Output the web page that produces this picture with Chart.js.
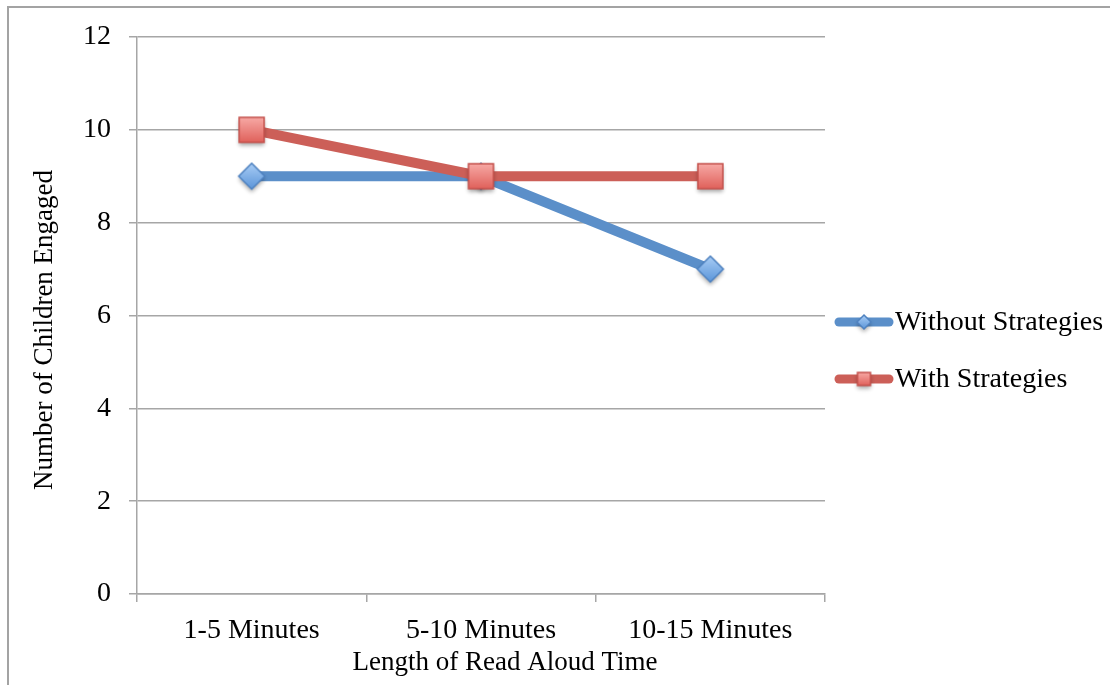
<!DOCTYPE html>
<html>
<head>
<meta charset="utf-8">
<script src="https://cdn.jsdelivr.net/npm/chart.js@4.4.1/dist/chart.umd.min.js"></script>
<style>
  html, body { margin: 0; padding: 0; background: #fff; }
  #wrap { position: relative; width: 1110px; height: 685px; overflow: hidden; }
  #frame {
    position: absolute; left: 7px; top: 6px; width: 1200px; height: 800px;
    border-left: 2px solid #a3a3a3; border-top: 2px solid #a3a3a3;
  }
  canvas { position: absolute; left: 0; top: 0; }
</style>
</head>
<body>
<div id="wrap">
  <div id="frame"></div>
  <canvas id="chart" width="1110" height="685"></canvas>
</div>
<script>
const categories = ["1-5 Minutes", "5-10 Minutes", "10-15 Minutes"];
const withoutStrategies = [9, 9, 7];
const withStrategies = [10, 9, 9];
const seriesNames = ["Without Strategies", "With Strategies"];
const yMin = 0;
const yMax = 12;
const yStep = 2;

const FONT = "'Liberation Serif', 'Times New Roman', serif";
const BLUE = "#5b8fc9";
const RED = "#cc5f58";
const GRID = "#a6a6a6";

// glossy marker images (shape + soft drop shadow), like the office chart
function makeMarker(shape, size) {
  const pad = 8;
  const c = document.createElement("canvas");
  c.width = size + pad * 2;
  c.height = size + pad * 2;
  const ctx = c.getContext("2d");
  const cx = c.width / 2, cy = c.height / 2, h = size / 2;
  ctx.beginPath();
  if (shape === "diamond") {
    ctx.moveTo(cx, cy - h);
    ctx.lineTo(cx + h, cy);
    ctx.lineTo(cx, cy + h);
    ctx.lineTo(cx - h, cy);
    ctx.closePath();
  } else {
    ctx.rect(cx - h, cy - h, size, size);
  }
  const g = ctx.createLinearGradient(0, cy - h, 0, cy + h);
  if (shape === "diamond") {
    g.addColorStop(0, "#a9cdf5");
    g.addColorStop(1, "#5b95d9");
  } else {
    g.addColorStop(0, "#f7a9a5");
    g.addColorStop(1, "#e0615b");
  }
  ctx.save();
  ctx.shadowColor = "rgba(0,0,0,0.35)";
  ctx.shadowBlur = 4;
  ctx.shadowOffsetY = 3;
  ctx.fillStyle = g;
  ctx.fill();
  ctx.restore();
  ctx.lineWidth = 1.5;
  ctx.strokeStyle = shape === "diamond" ? "#4f82c0" : "#c4504b";
  ctx.stroke();
  return c;
}

const diamondBig = makeMarker("diamond", 26);
const squareBig = makeMarker("square", 25);
const diamondSmall = makeMarker("diamond", 14);
const squareSmall = makeMarker("square", 13);

const decorPlugin = {
  id: "decor",
  afterDraw(chart) {
    const ctx = chart.ctx;
    ctx.save();
    ctx.fillStyle = "#000";
    // axis titles
    ctx.font = "27px " + FONT;
    ctx.textAlign = "center";
    ctx.textBaseline = "middle";
    ctx.fillText("Length of Read Aloud Time", 505, 663);
    ctx.save();
    ctx.translate(45, 330);
    ctx.rotate(-Math.PI / 2);
    ctx.fillText("Number of Children Engaged", 0, 0);
    ctx.restore();

    // legend
    const rows = [
      { y: 322, color: BLUE, img: diamondSmall },
      { y: 379, color: RED, img: squareSmall }
    ];
    rows.forEach((r, i) => {
      ctx.strokeStyle = r.color;
      ctx.lineWidth = 9;
      ctx.lineCap = "round";
      ctx.beginPath();
      ctx.moveTo(839, r.y);
      ctx.lineTo(889, r.y);
      ctx.stroke();
      ctx.drawImage(r.img, 864 - r.img.width / 2, r.y - r.img.height / 2);
      ctx.font = "28px " + FONT;
      ctx.textAlign = "left";
      ctx.fillStyle = "#000";
      ctx.fillText(seriesNames[i], 895, r.y + 1);
    });
    ctx.restore();
  }
};

new Chart(document.getElementById("chart"), {
  type: "line",
  data: {
    labels: categories,
    datasets: [
      {
        label: seriesNames[0],
        data: withoutStrategies,
        borderColor: BLUE,
        borderWidth: 10,
        pointStyle: diamondBig,
        order: 1
      },
      {
        label: seriesNames[1],
        data: withStrategies,
        borderColor: RED,
        borderWidth: 10,
        pointStyle: squareBig,
        order: 0
      }
    ]
  },
  options: {
    responsive: false,
    animation: false,
    devicePixelRatio: 1,
    layout: { padding: { top: 37, right: 285, left: 0, bottom: 0 } },
    elements: { line: { tension: 0 } },
    plugins: { legend: { display: false }, tooltip: { enabled: false } },
    scales: {
      x: {
        offset: true,
        grid: { offset: true, drawOnChartArea: false, color: GRID, lineWidth: 1.5, tickLength: 8 },
        border: { color: GRID, width: 1.5 },
        ticks: { color: "#000", font: { family: FONT, size: 28 }, padding: 12, maxRotation: 0 },
        afterFit(scale) { scale.height = 91; }
      },
      y: {
        min: yMin,
        max: yMax,
        grid: { color: GRID, lineWidth: 1.5, tickLength: 8 },
        border: { color: GRID, width: 1.5 },
        ticks: { stepSize: yStep, color: "#000", font: { family: FONT, size: 28 }, padding: 18 },
        afterFit(scale) { scale.width = 137; }
      }
    }
  },
  plugins: [decorPlugin]
});
</script>
</body>
</html>
